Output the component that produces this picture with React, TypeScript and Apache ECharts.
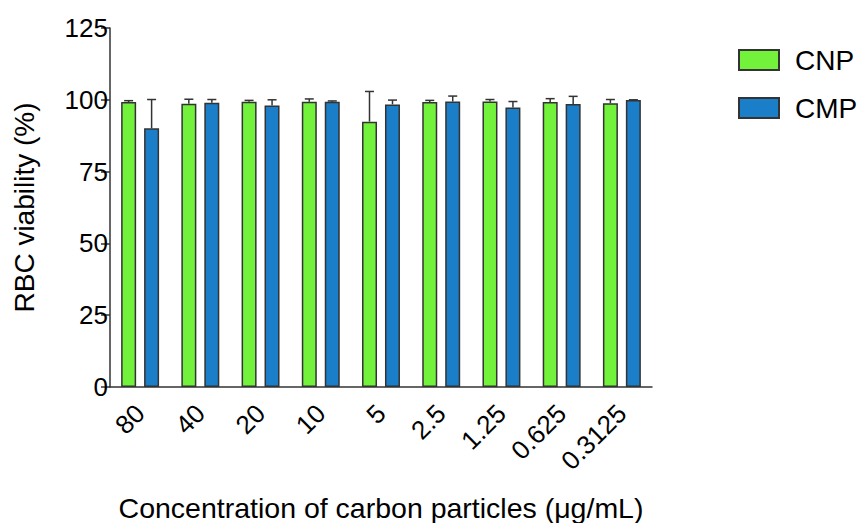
import React, { useEffect, useRef } from "react";
import * as echarts from "echarts";

const categories = ["80", "40", "20", "10", "5", "2.5", "1.25", "0.625", "0.3125"];
const cnpMean = [99.2, 98.6, 99.3, 99.3, 92.4, 99.2, 99.4, 99.2, 98.8];
const cnpErr = [0.5, 1.6, 0.5, 1.0, 10.5, 0.6, 0.7, 1.2, 1.3];
const cmpMean = [90.1, 99.0, 98.0, 99.3, 98.4, 99.4, 97.3, 98.5, 99.9];
const cmpErr = [10.0, 1.1, 2.0, 0.3, 1.5, 1.9, 2.1, 2.7, 0.1];
const yTicks = { min: 0, max: 125, interval: 25 };

const GREEN = "#72F23A";
const BLUE = "#1B7EC8";
const EDGE = "#333333";
const FONT = "Liberation Sans, Arial, sans-serif";

function errSeries(name: string, means: number[], errs: number[], offset: number) {
  return {
    type: "custom",
    name: name + "-err",
    z: 5,
    silent: true,
    encode: { x: 0, y: 1 },
    data: means.map((m, i) => [i, m, errs[i]]),
    renderItem: (params: any, api: any) => {
      const i = api.value(0);
      const m = api.value(1);
      const e = api.value(2);
      const p0 = api.coord([i, m]);
      const p1 = api.coord([i, m + e]);
      const x = p0[0] + offset;
      const style = { stroke: EDGE, lineWidth: 1.5 };
      return {
        type: "group",
        children: [
          { type: "line", shape: { x1: x, y1: p0[1], x2: x, y2: p1[1] }, style },
          { type: "line", shape: { x1: x - 4.5, y1: p1[1], x2: x + 4.5, y2: p1[1] }, style },
        ],
      };
    },
  };
}

export default function App() {
  const ref = useRef<HTMLDivElement>(null);
  useEffect(() => {
    if (!ref.current) return;
    document.body.style.margin = "0";
    const chart = echarts.init(ref.current, undefined, { renderer: "svg" });
    chart.setOption({
      animation: false,
      textStyle: { fontFamily: FONT },
      grid: { left: 110, right: 208, top: 28, bottom: 136, containLabel: false, outerBoundsMode: "none" },
      legend: {
        orient: "vertical",
        left: 733,
        top: 41,
        itemWidth: 40,
        itemHeight: 20,
        itemGap: 20,
        icon: "rect",
        data: ["CNP", "CMP"],
        textStyle: { fontSize: 28, color: "#000", fontFamily: FONT, padding: [0, 0, 0, 11] },
      },
      xAxis: {
        type: "category",
        data: categories,
        boundaryGap: true,
        axisLine: { lineStyle: { color: EDGE, width: 1.5 } },
        axisTick: { alignWithLabel: true, length: 9, lineStyle: { color: EDGE, width: 1.5 } },
        axisLabel: { rotate: 45, fontSize: 26, color: "#000", margin: 22, fontFamily: FONT },
        name: "Concentration of carbon particles (μg/mL)",
        nameLocation: "middle",
        nameGap: 121,
        nameTextStyle: { fontSize: 28.5, color: "#000", fontFamily: FONT, verticalAlign: "middle" },
      },
      yAxis: {
        type: "value",
        min: yTicks.min,
        max: yTicks.max,
        interval: yTicks.interval,
        splitLine: { show: false },
        axisLine: { show: true, lineStyle: { color: EDGE, width: 1.5 } },
        axisTick: { show: true, length: 9, lineStyle: { color: EDGE, width: 1.5 } },
        axisLabel: { fontSize: 26, color: "#000", margin: 2, fontFamily: FONT },
        name: "RBC viability (%)",
        nameLocation: "middle",
        nameGap: 72,
        nameTextStyle: { fontSize: 28, color: "#000", fontFamily: FONT },
      },
      series: [
        {
          type: "bar",
          name: "CNP",
          data: cnpMean,
          barWidth: 15,
          barGap: "53%",
          itemStyle: { color: GREEN, borderColor: EDGE, borderWidth: 1.5 },
        },
        {
          type: "bar",
          name: "CMP",
          data: cmpMean,
          barWidth: 15,
          barGap: "53%",
          itemStyle: { color: BLUE, borderColor: EDGE, borderWidth: 1.5 },
        },
        errSeries("CNP", cnpMean, cnpErr, -11.5),
        errSeries("CMP", cmpMean, cmpErr, 11.5),
      ],
    });
    return () => chart.dispose();
  }, []);
  return <div ref={ref} style={{ width: 860, height: 523 }} />;
}
